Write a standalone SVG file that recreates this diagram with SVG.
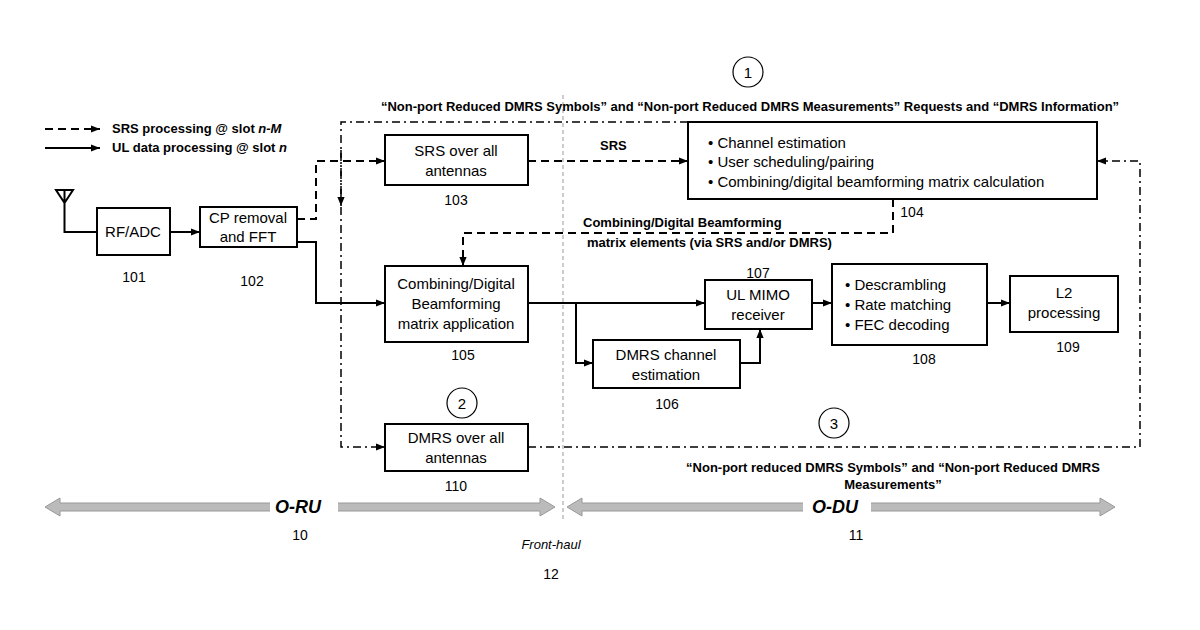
<svg xmlns="http://www.w3.org/2000/svg" width="1200" height="630" viewBox="0 0 1200 630">
<style>
text{font-family:"Liberation Sans",Arial,sans-serif;fill:#000}
.b{font-size:15px;text-anchor:middle}
.n{font-size:14px;text-anchor:middle}
.bd{font-size:13px;font-weight:bold}
.box{fill:#fff;stroke:#000;stroke-width:2}
.s{fill:none;stroke:#000;stroke-width:2}
.d{fill:none;stroke:#000;stroke-width:2;stroke-dasharray:8,5}
.dd{fill:none;stroke:#000;stroke-width:1.5;stroke-dasharray:8,4,2,4}
</style>
<defs>
<marker id="ab" viewBox="0 0 10 10" refX="10" refY="5" markerWidth="9" markerHeight="9" markerUnits="userSpaceOnUse" orient="auto"><path d="M0,1L10,5L0,9z"/></marker>
</defs>
<g id="legend">
<line x1="45" y1="129" x2="100" y2="129" class="d" marker-end="url(#ab)"/>
<text x="112" y="133" class="bd">SRS processing @ slot <tspan font-style="italic">n-M</tspan></text>
<line x1="45" y1="148" x2="100" y2="148" class="s" marker-end="url(#ab)"/>
<text x="112" y="152" class="bd">UL data processing @ slot <tspan font-style="italic">n</tspan></text>
</g>
<g id="frontline"><line x1="563" y1="95" x2="563" y2="522" stroke="#999" stroke-width="1" stroke-dasharray="4,3"/></g>
<g id="connectors">
<path d="M56,190 L73,190 L64.5,203 Z M64.5,190 V232 H97" class="s" fill="none"/>
<line x1="170" y1="232" x2="200" y2="232" class="s" marker-end="url(#ab)"/>
<path d="M297,219 H316 V161 H385" class="d" marker-end="url(#ab)"/>
<path d="M528,161 H688" class="d" marker-end="url(#ab)"/>
<path d="M893,199 V233 H463 V266" class="d" marker-end="url(#ab)"/>
<path d="M297,242 H316 V303 H385" class="s" marker-end="url(#ab)"/>
<path d="M528,303 H705" class="s" marker-end="url(#ab)"/>
<path d="M576,303 V363 H593" class="s" marker-end="url(#ab)"/>
<path d="M740,363 H760 V329" class="s" marker-end="url(#ab)"/>
<path d="M812,303 H832" class="s" marker-end="url(#ab)"/>
<path d="M987,303 H1010" class="s" marker-end="url(#ab)"/>
<path d="M688,122 H341 V447 H385" class="dd" marker-end="url(#ab)"/>
<path d="M341,150 V206" class="dd" marker-end="url(#ab)"/>
<path d="M528,447 H1140 V161 H1097" class="dd" marker-end="url(#ab)"/>
<text x="600" y="150" class="bd">SRS</text>
<text x="583" y="227" class="bd">Combining/Digital Beamforming</text>
<text x="587" y="247" class="bd">matrix elements (via SRS and/or DMRS)</text>
<text x="750" y="111" class="bd" text-anchor="middle">“Non-port Reduced DMRS Symbols” and “Non-port Reduced DMRS Measurements” Requests and “DMRS Information”</text>
<text x="893" y="472" class="bd" text-anchor="middle">“Non-port reduced DMRS Symbols” and “Non-port Reduced DMRS</text>
<text x="893" y="489" class="bd" text-anchor="middle">Measurements”</text>
</g>
<g id="n101"><rect x="97" y="208" width="73" height="47" class="box"/><text x="133" y="237" class="b">RF/ADC</text><text x="134" y="282" class="n">101</text></g>
<g id="n102"><rect x="200" y="207" width="97" height="40" class="box"/><text x="248" y="223" class="b">CP removal</text><text x="248" y="242" class="b">and FFT</text><text x="252" y="286" class="n">102</text></g>
<g id="n103"><rect x="385" y="135" width="143" height="50" class="box"/><text x="456" y="156" class="b">SRS over all</text><text x="456" y="176" class="b">antennas</text><text x="456" y="205" class="n">103</text></g>
<g id="n104"><rect x="688" y="122" width="409" height="77" class="box"/>
<text x="708" y="148" style="font-size:15px">•   Channel estimation</text>
<text x="708" y="167" style="font-size:15px">•   User scheduling/pairing</text>
<text x="708" y="187" style="font-size:15px">•   Combining/digital beamforming matrix calculation</text>
<text x="912" y="217" class="n">104</text></g>
<g id="n105"><rect x="385" y="266" width="143" height="76" class="box"/><text x="456" y="289" class="b">Combining/Digital</text><text x="456" y="309" class="b">Beamforming</text><text x="456" y="329" class="b">matrix application</text><text x="463" y="360" class="n">105</text></g>
<g id="n106"><rect x="593" y="340" width="147" height="48" class="box"/><text x="666" y="360" class="b">DMRS channel</text><text x="666" y="380" class="b">estimation</text><text x="667" y="409" class="n">106</text></g>
<g id="n107"><rect x="705" y="280" width="107" height="49" class="box"/><text x="758" y="300" class="b">UL MIMO</text><text x="758" y="320" class="b">receiver</text><text x="758" y="278" class="n">107</text></g>
<g id="n108"><rect x="832" y="264" width="155" height="81" class="box"/>
<text x="845" y="290" style="font-size:15px">•  Descrambling</text>
<text x="845" y="310" style="font-size:15px">•  Rate matching</text>
<text x="845" y="330" style="font-size:15px">•  FEC decoding</text>
<text x="924" y="364" class="n">108</text></g>
<g id="n109"><rect x="1010" y="276" width="108" height="56" class="box"/><text x="1064" y="298" class="b">L2</text><text x="1064" y="318" class="b">processing</text><text x="1068" y="352" class="n">109</text></g>
<g id="n110"><rect x="385" y="424" width="143" height="47" class="box"/><text x="456" y="443" class="b">DMRS over all</text><text x="456" y="463" class="b">antennas</text><text x="456" y="491" class="n">110</text></g>
<g id="c1"><circle cx="748" cy="72" r="15" fill="none" stroke="#000" stroke-width="1.2"/><text x="748" y="78" class="b">1</text></g>
<g id="c2"><circle cx="462" cy="403" r="15" fill="none" stroke="#000" stroke-width="1.2"/><text x="462" y="409" class="b">2</text></g>
<g id="c3"><circle cx="834" cy="423" r="15" fill="none" stroke="#000" stroke-width="1.2"/><text x="834" y="429" class="b">3</text></g>
<g id="oru">
<path d="M45,507 L60,498 V503 H540 V498 L555,507 L540,516 V511 H60 V516 Z" fill="#bbb" stroke="#999"/>
<rect x="270" y="498" width="68" height="20" fill="#fff"/>
<text x="298" y="513" style="font-size:18px;font-weight:bold;font-style:italic" text-anchor="middle">O-RU</text>
<text x="300" y="540" class="n">10</text></g>
<g id="odu">
<path d="M567,507 L582,498 V503 H1100 V498 L1115,507 L1100,516 V511 H582 V516 Z" fill="#bbb" stroke="#999"/>
<rect x="803" y="498" width="68" height="20" fill="#fff"/>
<text x="835" y="513" style="font-size:18px;font-weight:bold;font-style:italic" text-anchor="middle">O-DU</text>
<text x="856" y="540" class="n">11</text></g>
<g id="fh"><text x="551" y="549" class="n" font-style="italic" style="font-size:13px">Front-haul</text><text x="551" y="579" class="n">12</text></g>
</svg>
